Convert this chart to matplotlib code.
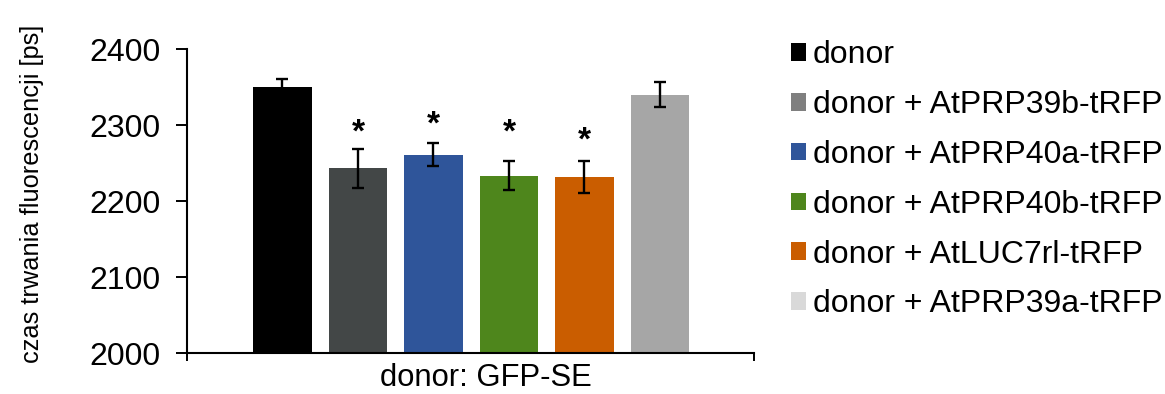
import matplotlib
matplotlib.use("Agg")
import matplotlib.pyplot as plt
from matplotlib.patches import Patch

plt.rcParams['font.family'] = ['Liberation Sans', 'DejaVu Sans']

labels = ["donor", "donor + AtPRP39b-tRFP", "donor + AtPRP40a-tRFP",
          "donor + AtPRP40b-tRFP", "donor + AtLUC7rl-tRFP", "donor + AtPRP39a-tRFP"]
values = [2350, 2243, 2261, 2233, 2232, 2340]
errors = [10, 26, 15, 19, 21, 16]
stars = ["", "*", "*", "*", "*", ""]
star_y = [None, 2290, 2300, 2290, 2279, None]
bar_colors = ["#000000", "#434747", "#2F559A", "#4E861C", "#CA5D00", "#A6A6A6"]
legend_colors = ["#000000", "#7F7F7F", "#2F559A", "#4E861C", "#CA5D00", "#D9D9D9"]
group_label = "donor: GFP-SE"
ylabel = "czas trwania fluorescencji [ps]"
yticks = [2000, 2100, 2200, 2300, 2400]

fig = plt.figure(figsize=(11.65, 3.94), dpi=100)
ax = fig.add_axes([0.1605, 0.104, 0.4867, 0.7716])

x = list(range(len(values)))
ax.bar(x, [v - 2000 for v in values], bottom=2000, width=0.78, color=bar_colors,
       yerr=errors, error_kw=dict(ecolor="black", elinewidth=1.7, capsize=4.5, capthick=1.7),
       zorder=2)
for xi, s, sy in zip(x, stars, star_y):
    if s:
        ax.text(xi, sy, s, ha="center", va="center", fontsize=24, fontweight="bold")

ax.set_ylim(2000, 2400)
ax.set_xlim(-1.265, 6.245)
ax.set_yticks(yticks)
ax.tick_params(axis="y", direction="out", length=8, width=1.4, labelsize=23, pad=11)
ax.set_xticks([2.7])
ax.set_xticklabels([group_label], fontsize=22.3)
ax.tick_params(axis="x", which="major", length=0, pad=7)
ax.set_xticks([-1.265, 6.245], minor=True)
ax.tick_params(axis="x", which="minor", direction="out", length=6, width=1.4)
for sp in ["top", "right"]:
    ax.spines[sp].set_visible(False)
for sp in ["left", "bottom"]:
    ax.spines[sp].set_linewidth(1.5)
ax.set_ylabel(ylabel, fontsize=18.3, va="center")
ax.yaxis.set_label_coords(-0.274, 0.523)

handles = [Patch(facecolor=c, edgecolor="none") for c in legend_colors]
leg = fig.legend(handles, labels, loc="upper left", bbox_to_anchor=(0.668, 0.93),
                 frameon=False, fontsize=23, handlelength=0.47, handleheight=0.47,
                 handletextpad=0.22, labelspacing=0.62, borderaxespad=0)

fig.savefig("out.png", dpi=100)
